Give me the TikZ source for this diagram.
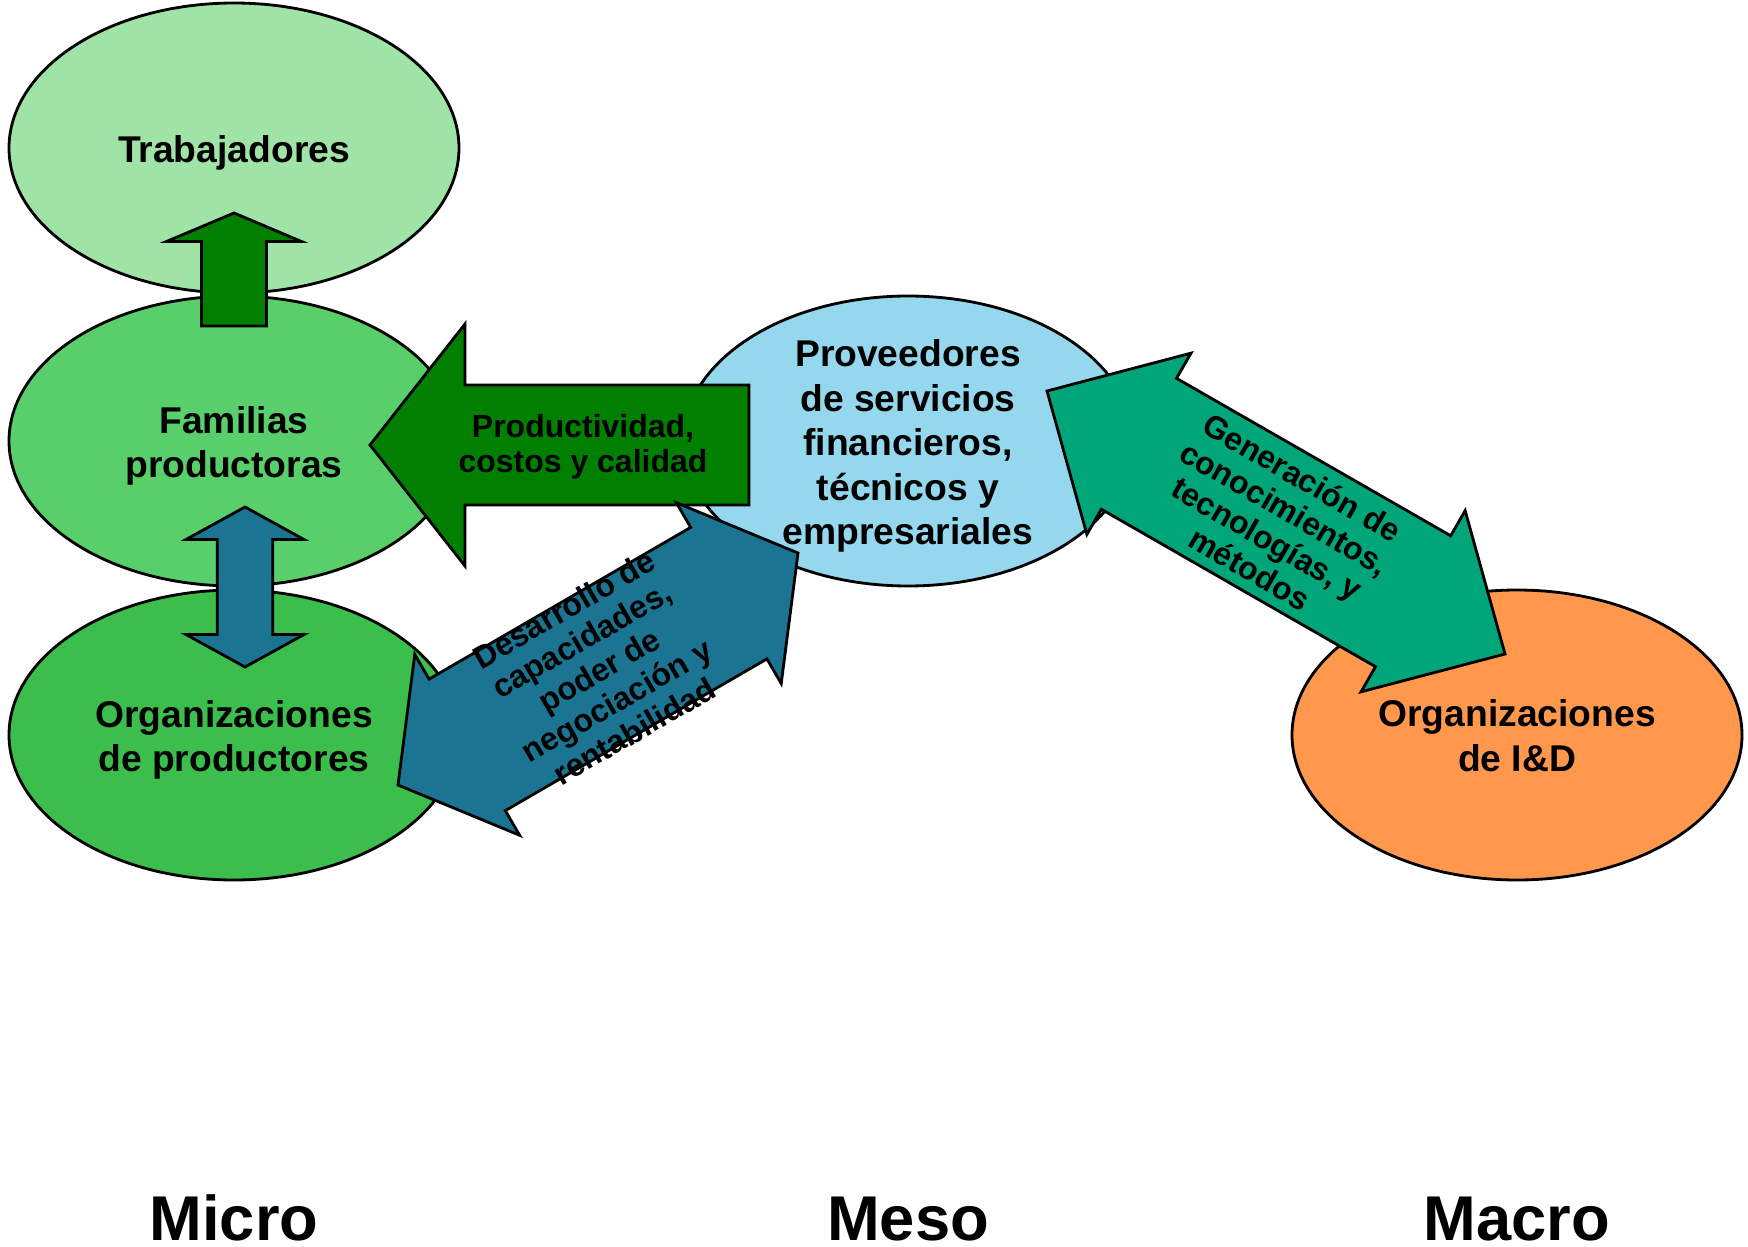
\documentclass[tikz,border=0pt]{standalone}
\usepackage{fontspec}
\setmainfont{Liberation Sans}
\usepackage{tikz}
\usetikzlibrary{calc,shapes.geometric}
\tikzset{font=\bfseries}
\tikzset{every node/.append style={transform shape=false}}

\definecolor{trabcol}{RGB}{160,227,166}
\definecolor{famcol}{RGB}{88,207,106}
\definecolor{orgcol}{RGB}{59,190,75}
\definecolor{provcol}{RGB}{149,216,238}
\definecolor{idcol}{RGB}{255,151,77}
\definecolor{darkgreen}{RGB}{0,127,0}
\definecolor{petrol}{RGB}{27,117,146}
\definecolor{jade}{RGB}{0,165,122}

% block arrows: #1 style, #2 from, #3 to, #4 half shaft, #5 half head, #6 head length
\newcommand{\blocksingle}[6]{%
  \path ($(#3)!#6!(#2)$) coordinate (hB);
  \draw[#1] ($(#2)!#4!90:(#3)$) -- ($(hB)!#4!-90:(#2)$) -- ($(hB)!#5!-90:(#2)$)
    -- (#3) -- ($(hB)!#5!90:(#2)$) -- ($(hB)!#4!90:(#2)$) -- ($(#2)!#4!-90:(#3)$) -- cycle;}
\newcommand{\blockdouble}[6]{%
  \path ($(#2)!#6!(#3)$) coordinate (hA) ($(#3)!#6!(#2)$) coordinate (hB);
  \draw[#1] (#2) -- ($(hA)!#5!90:(#3)$) -- ($(hA)!#4!90:(#3)$) -- ($(hB)!#4!-90:(#2)$)
    -- ($(hB)!#5!-90:(#2)$) -- (#3) -- ($(hB)!#5!90:(#2)$) -- ($(hB)!#4!90:(#2)$)
    -- ($(hA)!#4!-90:(#3)$) -- ($(hA)!#5!-90:(#3)$) -- cycle;}

\begin{document}
\begin{tikzpicture}[x=0.1mm,y=-0.1mm,line width=0.8pt,
  actor/.style={ellipse,draw,minimum width=45mm,minimum height=29mm,inner sep=0pt},
  big/.style={font=\fontsize{10.6}{12.7}\selectfont\bfseries,align=center,yshift=-0.5mm},
  small/.style={font=\fontsize{9.1}{10}\selectfont\bfseries,align=center},
  level/.style={font=\fontsize{18}{20}\selectfont\bfseries,anchor=base}]
  \useasboundingbox (0,0) rectangle (1748,1246);

  \node[actor,fill=trabcol,label={[big]center:Trabajadores}] (trab) at (234,148) {};
  \node[actor,fill=famcol,label={[big]center:Familias\\productoras}] (fam) at (234,441) {};
  \node[actor,fill=orgcol,label={[big]center:Organizaciones\\de productores}] (orgp) at (234,735) {};
  \node[actor,fill=provcol,label={[big]center:Proveedores\\de servicios\\financieros,\\t\'ecnicos y\\empresariales}] (prov) at (908,441) {};
  \node[actor,fill=idcol,label={[big,yshift=0.45mm]center:Organizaciones\\de I\&D}] (orgid) at (1517,735) {};

  % arrow ends
  \coordinate (upT) at (234,326);  \coordinate (upH) at (234,213);
  \coordinate (vA) at (245,507);   \coordinate (vB) at (245,667);
  \coordinate (prT) at (749,445);  \coordinate (prH) at (370,445);
  \coordinate (dsA) at (398,785);  \coordinate (dsB) at (798,553);
  \coordinate (gnA) at (1047,391); \coordinate (gnB) at (1505,654);

  \blocksingle{fill=darkgreen}{upT}{upH}{3.25mm}{6.75mm}{2.85mm}
  \blockdouble{fill=petrol}{vA}{vB}{2.77mm}{5.9mm}{3.25mm}
  \blocksingle{fill=darkgreen}{prT}{prH}{6mm}{12.1mm}{9.5mm}
  \blockdouble{fill=petrol}{dsA}{dsB}{7.6mm}{10.45mm}{8mm}
  \blockdouble{fill=jade}{gnA}{gnB}{7.55mm}{10.45mm}{10.6mm}

  \node[small] (prod) at (583,447) {Productividad,\\costos y calidad};
  \node[small,rotate=30] (desa) at (599,670) {Desarrollo de\\capacidades,\\poder de\\negociaci\'on y\\rentabilidad};
  \node[small,rotate=-30] (gene) at (1276,523) {Generaci\'on de\\conocimientos,\\tecnolog\'{\i}as, y\\m\'etodos};

  \node[level] (micro) at (234,1240) {Micro};
  \node[level] (meso) at (908,1240) {Meso};
  \node[level] (macro) at (1517,1240) {Macro};
\end{tikzpicture}
\end{document}
